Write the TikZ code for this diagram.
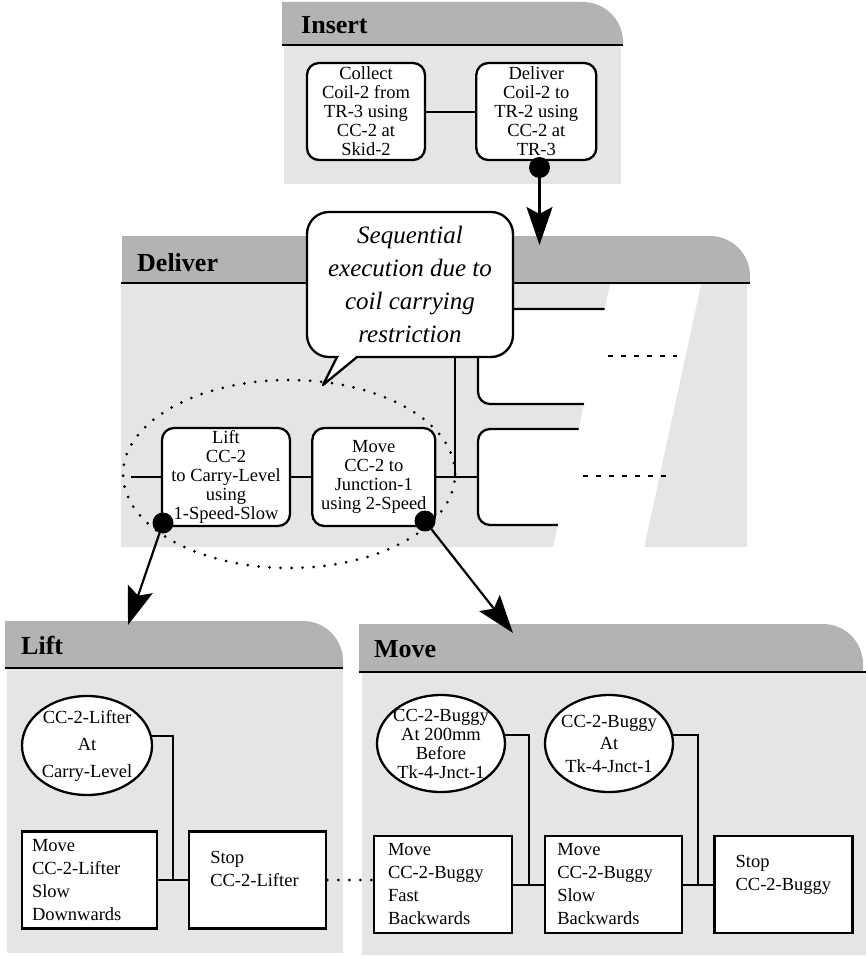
\documentclass[tikz,border=0pt]{standalone}
\usepackage{fontspec}
\setmainfont{Liberation Serif}
\usepackage{xcolor}
\usepackage{tikz}
\definecolor{hdrgray}{RGB}{179,179,179}
\definecolor{bodygray}{RGB}{229,229,229}
\usetikzlibrary{shapes.geometric,arrows.meta,positioning,calc}

\begin{document}
\begin{tikzpicture}[x=1pt, y=1pt,
        every node/.style={font=\fontsize{18.5}{19}\selectfont},
        title/.style={anchor=west, inner sep=0pt, font=\fontsize{26}{28}\selectfont\bfseries},
        task/.style={draw, line width=2.3pt, fill=white, rounded corners=12pt, align=center, inner sep=0pt, minimum height=97pt},
        cond/.style={draw, ellipse, line width=2.3pt, fill=white, align=center, inner sep=-4pt, minimum width=129pt, minimum height=98pt},
        act/.style={draw, line width=2.3pt, fill=white, align=left, inner ysep=0pt, minimum height=97pt, font=\fontsize{18.5}{23}\selectfont},
        dot/.style={circle, fill=black, inner sep=0pt, minimum size=21pt},
        link/.style={line width=2pt},
        group/.style={line width=3pt, line cap=round, dash pattern=on 0pt off 11pt},
        more/.style={line width=2.2pt, dash pattern=on 5pt off 8pt},
        bigarrow/.style={line width=2.2pt, -{Stealth[length=38pt, width=26pt, inset=7pt]}},
        note/.style={draw, line width=2.3pt, fill=white, rounded corners=22pt, align=center, inner sep=0pt,
            minimum width=206pt, minimum height=145pt, font=\fontsize{25}{33}\selectfont\itshape}]
    \useasboundingbox (0,0) rectangle (866,-958);

    % Panels
    \fill[bodygray] (284,-45) rectangle (621,-184);
    \fill[hdrgray] (282,-2) -- (583,-2) arc[start angle=90, end angle=0, radius=40] -- (623,-45) -- (282,-45) -- cycle;
    \draw[line width=2.5pt] (282,-45) -- (623,-45);

    \fill[bodygray] (121,-283) rectangle (747,-547);
    \fill[hdrgray] (122,-236) -- (710,-236) arc[start angle=90, end angle=0, radius=40] -- (750,-283) -- (122,-283) -- cycle;
    \draw[line width=2.5pt] (121,-283) -- (750,-283);

    \fill[bodygray] (7,-668) rectangle (343,-953);
    \fill[hdrgray] (5,-621) -- (303,-621) arc[start angle=90, end angle=0, radius=40] -- (343,-668) -- (5,-668) -- cycle;
    \draw[line width=2.5pt] (5,-668) -- (343,-668);

    \fill[bodygray] (362,-672) rectangle (866,-955);
    \fill[hdrgray] (359,-624) -- (823,-624) arc[start angle=90, end angle=0, radius=40] -- (863,-672) -- (359,-672) -- cycle;
    \draw[line width=2.5pt] (359,-672) -- (866,-672);

    % Titles
    \node[title] (tins) at (301,-25) {Insert};
    \node[title] (tdlv) at (137,-263) {Deliver};
    \node[title] (tlift) at (21,-645) {Lift};
    \node[title] (tmove) at (374,-649) {Move};

    % Insert
    \node[task, minimum width=118pt] (ins1) at (366,-111.5) {Collect\\Coil-2 from\\TR-3 using\\CC-2 at\\Skid-2};
    \node[task, minimum width=120pt, right=49pt of ins1] (ins2) {Deliver\\Coil-2 to\\TR-2 using\\CC-2 at\\TR-3};
    \draw[link] (ins1) -- (ins2);

    % Deliver
    \node[task, minimum width=162pt, minimum height=95pt] (slota) at (559,-356.5) {};
    \node[task, minimum width=162pt, minimum height=96pt] (slotb) at (559,-477) {};
    \fill[white] (610,-284.3) -- (701,-284.3) -- (644,-548) -- (553,-548) -- cycle;
    \draw[more] (608,-356) -- (677,-356);
    \draw[more] (583,-476) -- (672,-476);

    \draw[group] (289,-474) ellipse [x radius=166, y radius=94];

    \node[task, minimum width=128pt, minimum height=98pt] (dlift) at (226,-477) {Lift\\CC-2\\to Carry-Level\\using\\1-Speed-Slow};
    \node[task, minimum width=123pt, minimum height=98pt, right=20pt of dlift] (dmove) {Move\\CC-2 to\\Junction-1\\using 2-Speed};
    \coordinate (dstart) at (131,-477);
    \coordinate (split) at (455,-477);
    \draw[link] (dstart) -- (dlift);
    \draw[link] (dlift) -- (dmove);
    \draw[link] (dmove) -- (slotb);

    \node[note] (note) at (410,-284.5) {Sequential\\execution due to\\coil carrying\\restriction};
    \fill[white] (337,-357) -- (323,-385) -- (357,-357) -- cycle;
    \fill[white] (338.5,-353) rectangle (355.5,-359);
    \draw[line width=2.3pt, line join=round] (337,-357) -- (323,-385) -- (357,-357);
    \draw[link] (split) -- (split |- note.south);

    % Lift
    \node[cond, minimum width=130pt, minimum height=99pt, font=\fontsize{18.5}{27}\selectfont] (lcond) at (87,-745.5) {CC-2-Lifter\\At\\Carry-Level};
    \node[act, text width=115pt, inner xsep=10pt] (lmove) at (89.5,-880) {Move\\CC-2-Lifter\\Slow\\Downwards};
    \node[act, text width=95pt, inner xsep=21pt, right=30pt of lmove] (lstop) {Stop\\CC-2-Lifter\\\mbox{}};
    \draw[link] (lcond.8) -| ($(lmove.east)!.5!(lstop.west)$);
    \draw[link] (lmove) -- (lstop);

    % Move
    \node[cond, minimum width=128pt, minimum height=97pt] (mcond1) at (441,-743.5) {CC-2-Buggy\\At 200mm\\Before\\Tk-4-Jnct-1};
    \node[cond, minimum width=128pt, minimum height=97pt, font=\fontsize{18.5}{22.5}\selectfont] (mcond2) at (609,-743.5) {CC-2-Buggy\\At\\Tk-4-Jnct-1};
    \node[act, text width=110pt, inner xsep=14pt] (mmove1) at (443,-884.5) {Move\\CC-2-Buggy\\Fast\\Backwards};
    \node[act, text width=113pt, inner xsep=12pt, right=31pt of mmove1] (mmove2) {Move\\CC-2-Buggy\\Slow\\Backwards};
    \node[act, text width=96pt, inner xsep=21pt, right=30pt of mmove2] (mstop) {Stop\\CC-2-Buggy\\\mbox{}};
    \draw[link] (mcond1.8) -| ($(mmove1.east)!.5!(mmove2.west)$);
    \draw[link] (mmove1) -- (mmove2);
    \draw[link] (mcond2.8) -| ($(mmove2.east)!.5!(mstop.west)$);
    \draw[link] (mmove2) -- (mstop);
    \draw[group] (lstop.east) -- (lstop.east -| mmove1.west);

    % Refinement arrows
    \node[dot] (insdot) at (539.5,-167.5) {};
    \node[dot] (liftdot) at (163,-523) {};
    \node[dot] (movedot) at (425,-521) {};
    \coordinate (dlvin) at (539.5,-245);
    \coordinate (liftin) at (128,-625);
    \coordinate (movein) at (513,-633);
    \draw[bigarrow] (insdot.center) -- (dlvin);
    \draw[bigarrow] (liftdot.center) -- (liftin);
    \draw[bigarrow] (movedot.center) -- (movein);
\end{tikzpicture}
\end{document}
